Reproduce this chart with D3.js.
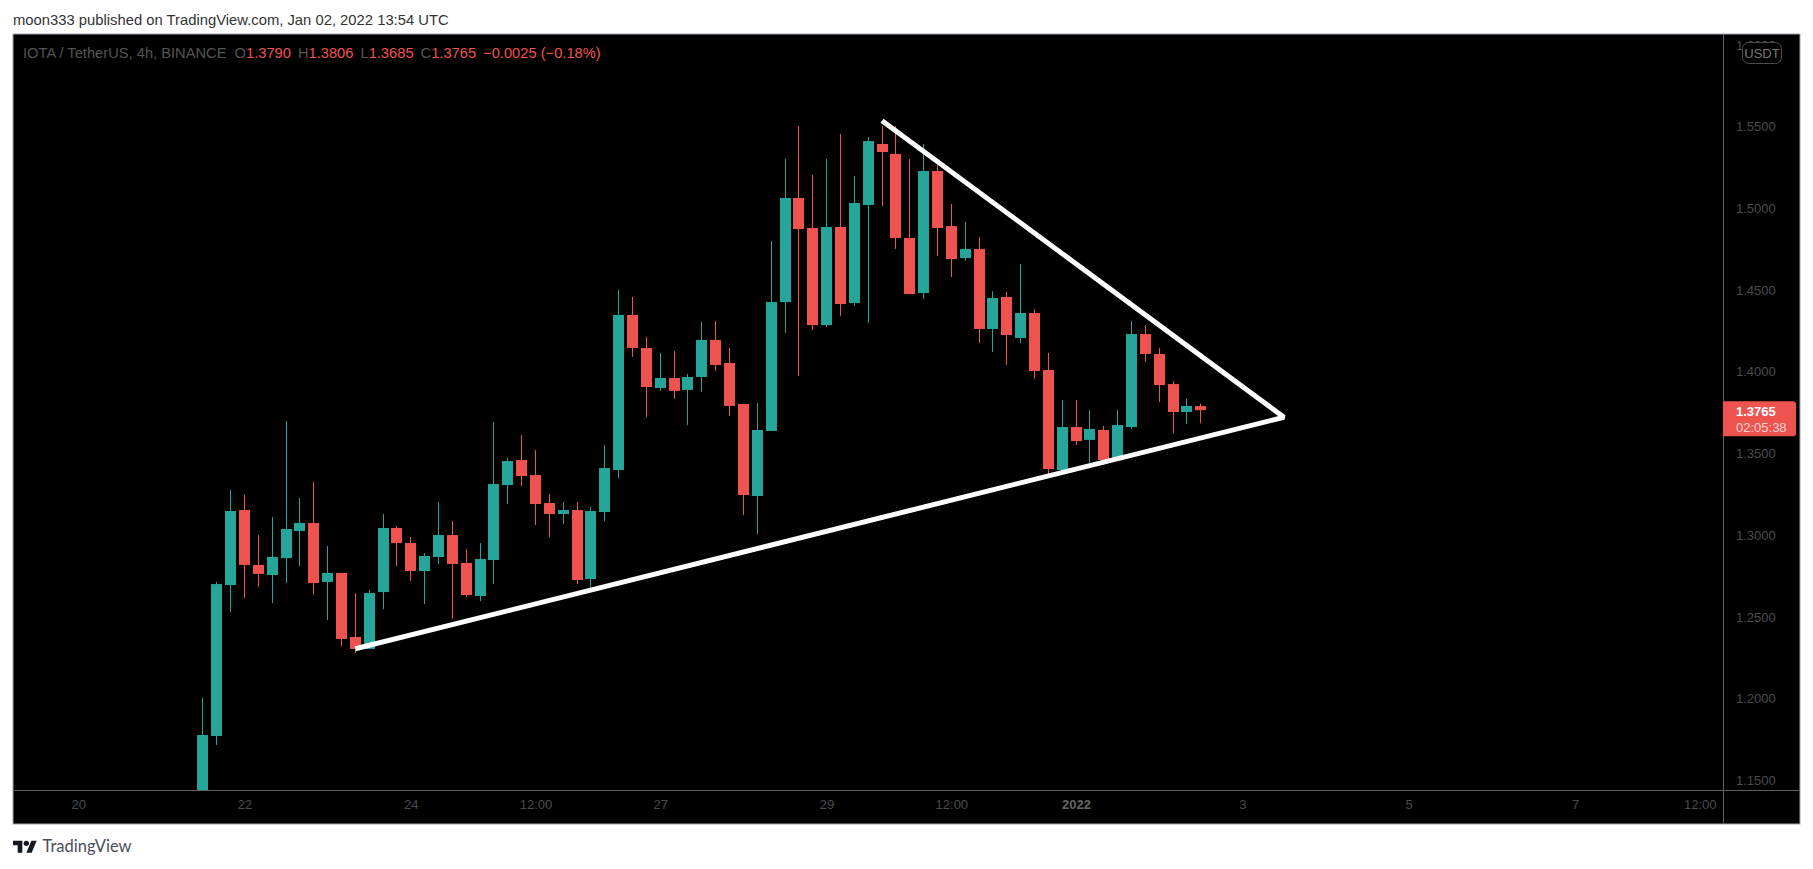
<!DOCTYPE html>
<html>
<head>
<meta charset="utf-8">
<script src="https://cdn.jsdelivr.net/npm/d3@7"></script>
<style>
    html, body { margin: 0; padding: 0; background: #fff; overflow: hidden; }
    svg { display: block; }
    text { font-family: "Liberation Sans", sans-serif; }
</style>
</head>
<body>
<svg id="chart" width="1813" height="869"></svg>
<script>
// 4h candles
const opens = [1.1379,1.1771,1.2695,1.3154,1.2818,1.2756,1.2860,1.3026,1.3075,1.2714,1.2769,1.2377,1.2304,1.2652,1.3044,1.2952,1.2781,1.2867,1.3001,1.2830,1.2628,1.2848,1.3307,1.3460,1.3368,1.3197,1.3130,1.3154,1.2732,1.3142,1.3399,1.4348,1.4146,1.3901,1.3962,1.3889,1.3968,1.4195,1.4054,1.3803,1.3240,1.3638,1.4427,1.5064,1.4880,1.4286,1.4886,1.4421,1.5021,1.5394,1.5333,1.4819,1.4482,1.5229,1.4892,1.4696,1.4752,1.4262,1.4458,1.4207,1.4360,1.4011,1.3399,1.3662,1.3583,1.3644,1.3460,1.3662,1.4231,1.4109,1.3925,1.3754,1.3790];
const highs = [1.2004,1.2714,1.3277,1.3246,1.3001,1.3111,1.3699,1.3228,1.3326,1.2934,1.2769,1.2646,1.2665,1.3130,1.3056,1.2989,1.2891,1.3203,1.3087,1.2916,1.2952,1.3693,1.3472,1.3613,1.3521,1.3252,1.3203,1.3203,1.3173,1.3552,1.4501,1.4458,1.4213,1.4115,1.4127,1.3986,1.4305,1.4311,1.4146,1.3803,1.3809,1.4801,1.5302,1.5504,1.5204,1.5302,1.5455,1.5198,1.5437,1.5504,1.5504,1.5302,1.5394,1.5266,1.5027,1.4917,1.4825,1.4494,1.4488,1.4660,1.4384,1.4115,1.3827,1.3827,1.3766,1.3668,1.3766,1.4311,1.4286,1.4146,1.3944,1.3834,1.3806];
const lows = [1.1318,1.1716,1.2530,1.2616,1.2683,1.2585,1.2707,1.2811,1.2634,1.2481,1.2322,1.2279,1.2304,1.2548,1.2811,1.2720,1.2579,1.2824,1.2487,1.2622,1.2597,1.2701,1.3191,1.3301,1.3062,1.2989,1.3069,1.2701,1.2677,1.3087,1.3350,1.4091,1.3723,1.3883,1.3834,1.3674,1.3876,1.4005,1.3730,1.3124,1.3007,1.3638,1.4237,1.3974,1.4256,1.4274,1.4342,1.4403,1.4299,1.5015,1.4752,1.4476,1.4446,1.4709,1.4580,1.4678,1.4176,1.4121,1.4042,1.4176,1.3956,1.3375,1.3387,1.3552,1.3442,1.3430,1.3460,1.3650,1.4060,1.3815,1.3625,1.3681,1.3685];
const closes = [1.1777,1.2701,1.3148,1.2818,1.2763,1.2867,1.3038,1.3075,1.2707,1.2769,1.2365,1.2304,1.2646,1.3044,1.2952,1.2781,1.2873,1.3001,1.2824,1.2634,1.2854,1.3313,1.3454,1.3362,1.3191,1.3130,1.3154,1.2726,1.3148,1.3411,1.4348,1.4146,1.3907,1.3962,1.3883,1.3968,1.4195,1.4042,1.3791,1.3246,1.3644,1.4427,1.5064,1.4874,1.4286,1.4886,1.4415,1.5033,1.5412,1.5345,1.4819,1.4476,1.5229,1.4880,1.4690,1.4752,1.4262,1.4452,1.4225,1.4360,1.4005,1.3405,1.3662,1.3576,1.3650,1.3460,1.3674,1.4231,1.4109,1.3919,1.3754,1.3791,1.3765];

const priceTicks = [1.15,1.2,1.25,1.3,1.35,1.4,1.45,1.5,1.55,1.6];
const timeTickBars = [-9,3,15,24,33,45,54,63,75,87,99,108];
const timeTickLabels = ["20","22","24","12:00","27","29","12:00","2022","3","5","7","12:00"];

// drawn triangle: [bar, price]
const triangle = [[49,1.5537],[78,1.3722],[11,1.2305]];

const upColor = "#26a69a";
const downColor = "#ef5350";
const tickColor = "#4c4c4c";

const frame = { left: 13, top: 34, right: 1800, bottom: 824 };
const paneRight = 1723;
const paneBottom = 790;

const svg = d3.select("#chart");

const x = d3.scaleLinear().domain([0, 72]).range([202.9, 1200.8]);
const y = d3.scaleLinear().domain([1.15, 1.55]).range([780.3, 126.7]);

// Header
svg.append("text")
    .attr("x", 13).attr("y", 24.5)
    .attr("font-size", 14.8)
    .attr("fill", "#333")
    .text("moon333 published on TradingView.com, Jan 02, 2022 13:54 UTC");

// Background
svg.append("rect")
    .attr("x", frame.left).attr("y", frame.top)
    .attr("width", frame.right - frame.left).attr("height", frame.bottom - frame.top)
    .attr("fill", "#000").attr("stroke", "#a3a6af");

svg.append("clipPath").attr("id", "pane").append("rect")
    .attr("x", frame.left).attr("y", frame.top)
    .attr("width", paneRight - frame.left).attr("height", paneBottom - frame.top);

// Candles
const candles = svg.append("g").attr("clip-path", "url(#pane)")
    .selectAll("g")
    .data(d3.range(opens.length))
    .join("g")
    .attr("fill", i => closes[i] >= opens[i] ? upColor : downColor);

candles.append("rect")
    .attr("x", i => Math.floor(x(i)))
    .attr("width", 1)
    .attr("y", i => y(highs[i]))
    .attr("height", i => y(lows[i]) - y(highs[i]));

candles.append("rect")
    .attr("x", i => Math.floor(x(i)) - 5)
    .attr("width", 11)
    .attr("y", i => y(Math.max(opens[i], closes[i])))
    .attr("height", i => Math.abs(y(opens[i]) - y(closes[i])));

// Triangle
svg.append("path")
    .attr("d", d3.line().x(d => x(d[0])).y(d => y(d[1]))(triangle))
    .attr("fill", "none")
    .attr("stroke", "#fff")
    .attr("stroke-width", 5)
    .attr("stroke-linejoin", "bevel");

// Axes
const priceAxis = svg.append("g")
    .attr("transform", `translate(${paneRight},0)`)
    .call(d3.axisRight(y).tickValues(priceTicks).tickFormat(d3.format(".4f")).tickSize(0).tickPadding(13));

const timeAxis = svg.append("g")
    .attr("transform", `translate(0,${paneBottom})`)
    .call(d3.axisBottom(x).tickValues(timeTickBars).tickFormat((d, i) => timeTickLabels[i]).tickSize(0).tickPadding(10));

[priceAxis, timeAxis].forEach(axis => {
    axis.select(".domain").remove();
    axis.selectAll("text")
        .attr("font-family", "Liberation Sans")
        .attr("font-size", 13)
        .attr("fill", tickColor);
});
timeAxis.selectAll("text")
    .filter(d => d === 63)
    .attr("font-weight", "bold")
    .attr("fill", "#666");

svg.append("line")
    .attr("x1", paneRight + 0.5).attr("x2", paneRight + 0.5)
    .attr("y1", frame.top).attr("y2", frame.bottom)
    .attr("stroke", "#606060");
svg.append("line")
    .attr("x1", frame.left).attr("x2", frame.right)
    .attr("y1", paneBottom + 0.5).attr("y2", paneBottom + 0.5)
    .attr("stroke", "#606060");

// Legend
const legend = svg.append("text")
    .attr("x", 23).attr("y", 58)
    .attr("font-size", 14.7)
    .attr("fill", "#555");
legend.append("tspan").text("IOTA / TetherUS, 4h, BINANCE");
const last = opens.length - 1;
const ohlc = [["O", opens[last]], ["H", highs[last]], ["L", lows[last]], ["C", closes[last]]];
ohlc.forEach((d, i) => {
    legend.append("tspan").attr("dx", i === 0 ? 8 : 7).text(d[0]);
    legend.append("tspan").attr("fill", downColor).text(d[1].toFixed(4));
});
legend.append("tspan").attr("dx", 7).attr("fill", downColor).text("\u22120.0025 (\u22120.18%)");

// Last price tag
const lastY = y(closes[last]);
svg.append("path")
    .attr("d", `M${paneRight},${lastY - 9}H1793a3,3 0 0 1 3,3V${lastY + 23}a3,3 0 0 1 -3,3H${paneRight}Z`)
    .attr("fill", downColor);
svg.append("text")
    .attr("x", 1736).attr("y", lastY + 5.5)
    .attr("font-size", 13).attr("font-weight", "bold").attr("fill", "#fff")
    .text(closes[last].toFixed(4));
svg.append("text")
    .attr("x", 1736).attr("y", lastY + 21.5)
    .attr("font-size", 13).attr("fill", "#fff").attr("fill-opacity", 0.75)
    .text("02:05:38");

// Currency badge
svg.append("rect")
    .attr("x", 1742.5).attr("y", 42.5)
    .attr("width", 39).attr("height", 21).attr("rx", 6)
    .attr("fill", "#000").attr("stroke", "#4c4c4c");
svg.append("text")
    .attr("x", 1762).attr("y", 57.5)
    .attr("text-anchor", "middle")
    .attr("font-size", 13).attr("fill", "#777")
    .text("USDT");

// Footer logo
const logo = svg.append("g")
    .attr("transform", "translate(13,838) scale(0.667)")
    .attr("fill", "#131722");
logo.append("path").attr("d", "M14 22H7V11H0V4h14v18zM28 22h-8l7.5-18h8L28 22z");
logo.append("circle").attr("cx", 20).attr("cy", 8).attr("r", 4);

svg.append("text")
    .attr("x", 42.5).attr("y", 852)
    .style("font-family", "Lato")
    .attr("font-size", 16.5)
    .attr("fill", "#4a4e59")
    .text("TradingView");
</script>
</body>
</html>
